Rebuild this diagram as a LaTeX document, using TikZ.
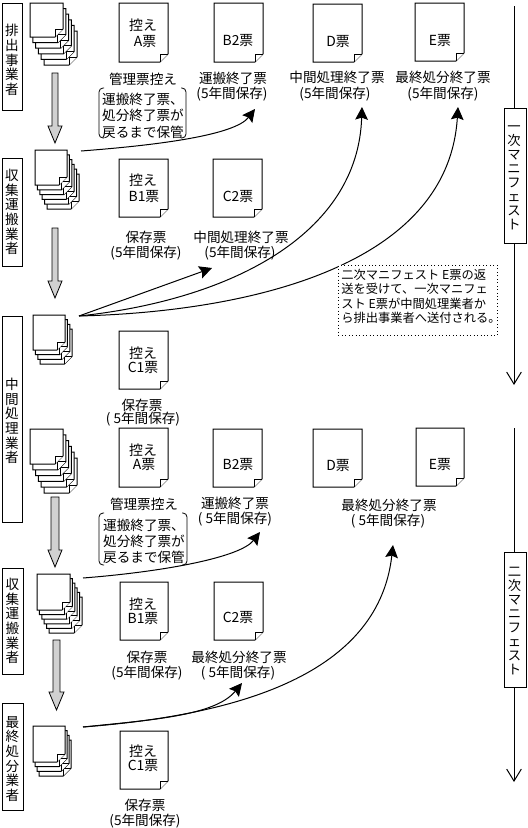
\documentclass[tikz,border=0pt]{standalone}
\usepackage{fontspec}
\setmainfont{Noto Sans CJK JP}
\usetikzlibrary{arrows.meta}
\newcommand\docsheet[5]{%
  \draw[sheet] (#2,#3) coordinate (#1) -- ++(#4,0) -- ++(0,#5-8) -- ++(-8,8) -- ++(8-#4,0) -- cycle;
  \draw[sheet] (#2+#4-8,#3+#5) -- ++(0,-8) -- ++(8,0);}
\newcommand\sheetstack[8]{% name x y w h n dx dy
  \foreach \i in {#6,...,0}{\docsheet{#1-\i}{#2+\i*#7}{#3+\i*#8}{#4}{#5}}}
\tikzset{
  x=0.75pt,y=-0.75pt,
  sheet/.style={draw=black,fill=white,line width=0.75pt},
  txt/.style={inner sep=0pt,font=\fontsize{10.2pt}{12pt}\selectfont},
  big/.style={inner sep=0pt,font=\fontsize{10.4pt}{12pt}\selectfont},
  vtxt/.style={inner sep=0pt,align=center,font=\fontsize{10.2pt}{11pt}\selectfont},
  vbox/.style={draw=black,fill=white,line width=0.75pt,inner sep=0pt},
  blockarrow/.style={draw=black,fill=black!18,line width=0.6pt},
  flow/.style={draw=black,line width=0.75pt,-{Stealth[length=9.5pt,width=9.5pt,inset=1.5pt]}},
  axis/.style={draw=black,line width=0.75pt,-{Straight Barb[length=9pt,width=11pt]}},
  brace/.style={draw=black,line width=0.6pt,rounded corners=3pt},
}
\newcommand\blockdown[6]{% x-left-shaft x-right-shaft top headtop tip head half
  \draw[blockarrow] (#1,#3) -- (#2,#3) -- (#2,#4) -- (#2+#6,#4) -- (#1/2+#2/2,#5) -- (#1-#6,#4) -- (#1,#4) -- cycle;}
\begin{document}
\begin{tikzpicture}
\useasboundingbox[fill=white] (0,0) rectangle (528,828);

% actor boxes
\draw[vbox] (2,3) rectangle (22,110);
\node[vtxt] (a1) at (12,60) {排\\出\\事\\業\\者};
\draw[vbox] (2,158) rectangle (22,266);
\node[vtxt] (a2) at (12,212) {収\\集\\運\\搬\\業\\者};
\draw[vbox] (2,316) rectangle (22,522);
\node[vtxt] (a3) at (12,421) {中\\間\\処\\理\\業\\者};
\draw[vbox] (2,568) rectangle (23,674);
\node[vtxt] (a4) at (12.5,621) {収\\集\\運\\搬\\業\\者};
\draw[vbox] (2,703) rectangle (23,810);
\node[vtxt] (a5) at (12.5,759) {最\\終\\処\\分\\業\\者};

% stacks
\sheetstack{s1}{30}{3}{33}{34}{5}{2.8}{5.6}
\sheetstack{s2}{35}{150}{32}{35}{5}{2.4}{4.8}
\sheetstack{s3}{33}{315}{32}{35}{3}{2.4}{4.7}
\sheetstack{s4}{30}{429}{33}{35}{5}{2.8}{5.8}
\sheetstack{s5}{37}{574}{33}{36}{5}{2.4}{4.6}
\sheetstack{s6}{33}{726}{32}{36}{3}{2}{4.7}

% block arrows
\blockdown{52}{58}{73}{126}{143}{4}
\blockdown{52}{58}{228}{281}{298}{4}
\blockdown{51}{59}{497}{550}{567}{3}
\blockdown{53}{60}{640}{692}{710}{4}

% first manifest sheets
\docsheet{dA}{119}{3}{49}{59}
\node[big] (dAa) at (143,25) {控え};
\node[big] (dAb) at (145,42) {A票};
\docsheet{dB2}{214}{3}{49}{59}
\node[big] (dB2a) at (238,41) {B2票};
\docsheet{dD}{313}{4}{49}{58}
\node[big] (dDa) at (338,42) {D票};
\docsheet{dE}{415}{3}{49}{58}
\node[big] (dEa) at (440,41) {E票};
\node[txt] (l1) at (143,79) {管理票控え};
\node[txt] (l2) at (233,78) {運搬終了票};
\node[txt] (l3) at (232,94) {(5年間保存)};
\node[txt] (l4) at (337,77) {中間処理終了票};
\node[txt] (l5) at (335,94) {(5年間保存)};
\node[txt] (l6) at (443,77) {最終処分終了票};
\node[txt] (l7) at (443,94) {(5年間保存)};
\draw[brace] (104,88) -- (99,88) -- (99,138) -- (104,138);
\draw[brace] (181,88) -- (186,88) -- (186,138) -- (181,138);
\node[txt] (n1) at (143,99) {運搬終了票、};
\node[txt] (n2) at (143,115) {処分終了票が};
\node[txt] (n3) at (143,132) {戻るまで保管};

\docsheet{dB1}{119}{159}{49}{58}
\node[big] (dB1a) at (143,180) {控え};
\node[big] (dB1b) at (144,197) {B1票};
\docsheet{dC2}{213}{159}{49}{58}
\node[big] (dC2a) at (238,197) {C2票};
\node[txt] (l8) at (146,237) {保存票};
\node[txt] (l9) at (146,253) {(5年間保存)};
\node[txt] (l10) at (241,237) {中間処理終了票};
\node[txt] (l11) at (240,253) {(5年間保存)};

\docsheet{dC1}{119}{331}{49}{58}
\node[big] (dC1a) at (143,353) {控え};
\node[big] (dC1b) at (143,368) {C1票};
\node[txt] (l12) at (142,405.5) {保存票};
\node[txt] (l13) at (143,419.5) {( 5年間保存)};

% second manifest sheets
\docsheet{eA}{119}{428}{49}{59}
\node[big] (eAa) at (143,450) {控え};
\node[big] (eAb) at (144,465) {A票};
\docsheet{eB2}{213}{429}{49}{58}
\node[big] (eB2a) at (238,465) {B2票};
\docsheet{eD}{313}{429}{49}{58}
\node[big] (eDa) at (338,466) {D票};
\docsheet{eE}{416}{428}{48}{58}
\node[big] (eEa) at (440,465) {E票};
\node[txt] (m1) at (144,504) {管理票控え};
\node[txt] (m2) at (235,503) {運搬終了票};
\node[txt] (m3) at (235,519) {( 5年間保存)};
\node[txt] (m4) at (389,505) {最終処分終了票};
\node[txt] (m5) at (388,521) {( 5年間保存)};
\draw[brace] (104,513) -- (99,513) -- (99,565) -- (104,565);
\draw[brace] (182,513) -- (187,513) -- (187,565) -- (182,565);
\node[txt] (p1) at (144,525) {運搬終了票、};
\node[txt] (p2) at (144,541) {処分終了票が};
\node[txt] (p3) at (144,557) {戻るまで保管};

\docsheet{eB1}{120}{582}{48}{58}
\node[big] (eB1a) at (143,604) {控え};
\node[big] (eB1b) at (143,619) {B1票};
\docsheet{eC2}{214}{582}{49}{58}
\node[big] (eC2a) at (238,618) {C2票};
\node[txt] (m6) at (147,657) {保存票};
\node[txt] (m7) at (147,673) {(5年間保存)};
\node[txt] (m8) at (239,657) {最終処分終了票};
\node[txt] (m9) at (238,673) {( 5年間保存)};

\docsheet{eC1}{120}{731}{48}{58}
\node[big] (eC1a) at (143,751) {控え};
\node[big] (eC1b) at (143,766) {C1票};
\node[txt] (m10) at (145,805) {保存票};
\node[txt] (m11) at (145,821) {(5年間保存)};

% connectors
\coordinate (f1) at (81,151);
\coordinate (t1) at (255,109);
\coordinate (f2) at (79,316);
\coordinate (t2) at (212,268);
\coordinate (t3) at (362,107);
\coordinate (t4) at (458,107);
\coordinate (f3) at (83,578);
\coordinate (t5) at (260,532);
\coordinate (f4) at (83,727);
\coordinate (t6) at (242,683);
\coordinate (t7) at (393,545);
\draw[flow] (f1) .. controls (160,145) and (235,135) .. (t1);
\draw[flow] (f2) -- (t2);
\draw[flow] (f2) .. controls (230,300) and (358,235) .. (t3);
\draw[flow] (f2) .. controls (240,312) and (448,270) .. (t4);
\draw[flow] (f3) .. controls (160,572) and (240,558) .. (t5);
\draw[flow] (f4) .. controls (150,720) and (215,716) .. (t6);
\draw[flow] (f4) .. controls (225,716) and (378,680) .. (t7);

% note
\node[draw=black,dotted,line width=0.6pt,fill=white,anchor=north west,minimum width=159*0.75pt,minimum height=70*0.75pt,inner sep=0pt] (note) at (338,265) {};
\node[inner sep=0pt,anchor=north west,align=left,font=\fontsize{9.2pt}{10.8pt}\selectfont] (notetext) at (341,269) {二次マニフェスト E票の返\\送を受けて、一次マニフェ\\スト E票が中間処理業者か\\ら排出事業者へ送付される。};

% manifest axes
\node[vbox,minimum width=22*0.75pt,minimum height=135*0.75pt] (b1) at (515,175.5) {};
\node[vtxt,font=\fontsize{10pt}{10.5pt}\selectfont] (b1t) at (514,178) {一\\次\\マ\\ニ\\フ\\ェ\\ス\\ト};
\coordinate (b1s) at (514,6);
\coordinate (b1e) at (514,385);
\draw[line width=0.75pt] (b1s) -- (b1.north -| b1s);
\draw[axis] (b1.south -| b1s) -- (b1e);
\node[vbox,minimum width=22*0.75pt,minimum height=135*0.75pt] (b2) at (515.5,619.5) {};
\node[vtxt,font=\fontsize{10pt}{10.5pt}\selectfont] (b2t) at (514.5,621) {二\\次\\マ\\ニ\\フ\\ェ\\ス\\ト};
\coordinate (b2s) at (514,428);
\coordinate (b2e) at (514,782);
\draw[line width=0.75pt] (b2s) -- (b2.north -| b2s);
\draw[axis] (b2.south -| b2s) -- (b2e);
\end{tikzpicture}
\end{document}
